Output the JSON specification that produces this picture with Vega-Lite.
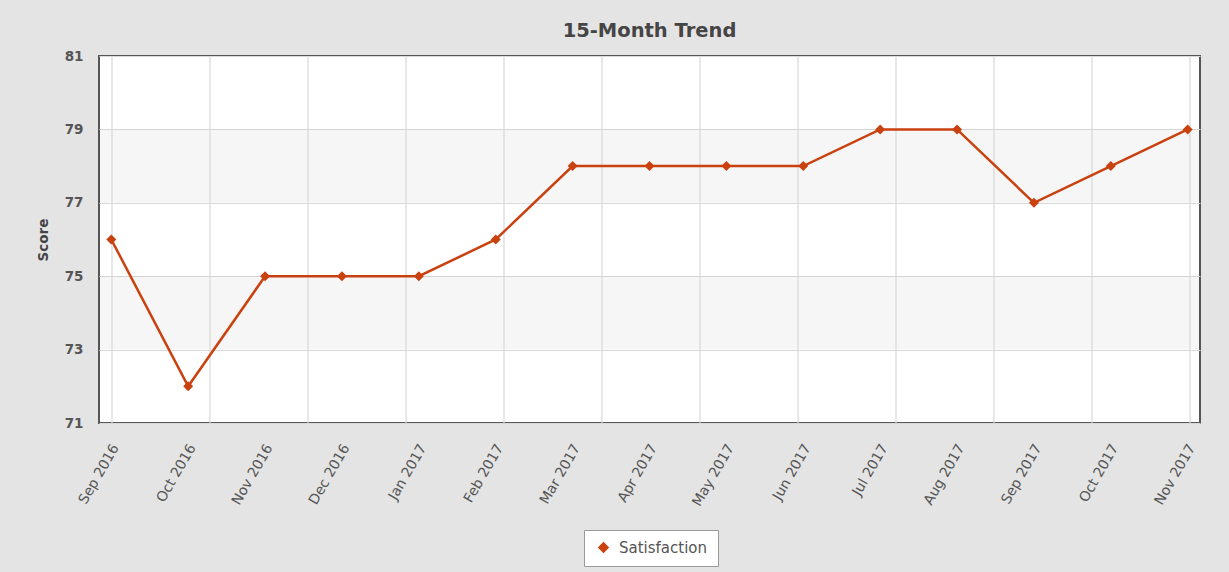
{
  "$schema": "https://vega.github.io/schema/vega-lite/v6.json",
  "width": 1101,
  "height": 367,
  "autosize": {"type": "none"},
  "padding": {"left": 99, "top": 56, "right": 29, "bottom": 149},
  "background": "#e4e4e4",
  "title": {"text": "15-Month Trend", "fontSize": 19.5, "font": "DejaVu Sans", "fontWeight": "bold", "color": "#454545", "offset": 8, "anchor": "middle"},
  "config": {
    "font": "DejaVu Sans",
    "view": {"stroke": "#555555", "strokeWidth": 2, "fill": "white"}
  },
  "resolve": {"scale": {"x": "independent"}, "axis": {"x": "independent"}},
  "layer": [
    {
      "data": {"values": [{"lo": 73, "hi": 75}, {"lo": 77, "hi": 79}]},
      "mark": {"type": "rect", "color": "#000000", "opacity": 0.035},
      "encoding": {
        "y": {
          "field": "lo", "type": "quantitative",
          "scale": {"domain": [71, 81], "nice": false, "zero": false},
          "axis": {
            "values": [71, 73, 75, 77, 79, 81],
            "grid": true, "gridColor": "#d9d9d9", "gridWidth": 1.2,
            "domain": false, "ticks": false,
            "labelColor": "#555555", "labelFontSize": 13.5, "labelFontWeight": "bold", "labelPadding": 16,
            "title": "Score", "titleColor": "#444444", "titleFontSize": 13.5, "titleFontWeight": "bold", "titlePadding": 14
          }
        },
        "y2": {"field": "hi"}
      }
    },
    {
      "data": {"values": [{"g": 0}, {"g": 1}, {"g": 2}, {"g": 3}, {"g": 4}, {"g": 5}, {"g": 6}, {"g": 7}, {"g": 8}, {"g": 9}, {"g": 10}, {"g": 11}]},
      "mark": {"type": "rule", "color": "#d9d9d9", "strokeWidth": 1.2},
      "encoding": {
        "x": {"field": "g", "type": "quantitative", "scale": {"domain": [-0.1327, 11.102], "nice": false, "zero": false}, "axis": null}
      }
    },
    {
      "data": {"values": [
        {"month": "Sep 2016", "score": 76, "series": "Satisfaction"},
        {"month": "Oct 2016", "score": 72, "series": "Satisfaction"},
        {"month": "Nov 2016", "score": 75, "series": "Satisfaction"},
        {"month": "Dec 2016", "score": 75, "series": "Satisfaction"},
        {"month": "Jan 2017", "score": 75, "series": "Satisfaction"},
        {"month": "Feb 2017", "score": 76, "series": "Satisfaction"},
        {"month": "Mar 2017", "score": 78, "series": "Satisfaction"},
        {"month": "Apr 2017", "score": 78, "series": "Satisfaction"},
        {"month": "May 2017", "score": 78, "series": "Satisfaction"},
        {"month": "Jun 2017", "score": 78, "series": "Satisfaction"},
        {"month": "Jul 2017", "score": 79, "series": "Satisfaction"},
        {"month": "Aug 2017", "score": 79, "series": "Satisfaction"},
        {"month": "Sep 2017", "score": 77, "series": "Satisfaction"},
        {"month": "Oct 2017", "score": 78, "series": "Satisfaction"},
        {"month": "Nov 2017", "score": 79, "series": "Satisfaction"}
      ]},
      "encoding": {
        "x": {
          "field": "month", "type": "ordinal", "sort": null,
          "scale": {"type": "point", "padding": 0.16},
          "axis": {
            "labelAngle": -60, "labelAlign": "right", "labelBaseline": "middle",
            "ticks": false, "domain": false, "grid": false, "title": null,
            "labelColor": "#555555", "labelFontSize": 14, "labelPadding": 22, "labelOffset": 4
          }
        },
        "y": {"field": "score", "type": "quantitative"}
      },
      "layer": [
        {"mark": {"type": "line", "color": "#c9410f", "strokeWidth": 2.5}},
        {
          "mark": {"type": "point", "shape": "diamond", "filled": true, "size": 100, "opacity": 1},
          "encoding": {
            "color": {
              "field": "series", "type": "nominal",
              "scale": {"domain": ["Satisfaction"], "range": ["#c9410f"]},
              "legend": {
                "orient": "none", "legendX": 485, "legendY": 474, "title": null,
                "symbolType": "diamond", "symbolSize": 130, "symbolOpacity": 1, "symbolOffset": 2,
                "labelFontSize": 15, "labelColor": "#555555", "labelOffset": 8,
                "fillColor": "white", "strokeColor": "#999999", "padding": 10
              }
            }
          }
        }
      ]
    }
  ]
}
